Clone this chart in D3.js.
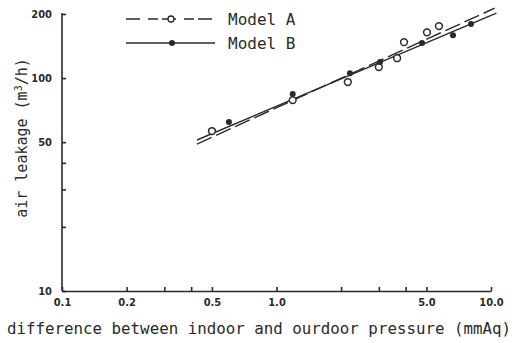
<!DOCTYPE html>
<html><head><meta charset="utf-8">
<script src="https://cdn.jsdelivr.net/npm/d3@7"></script>
<style>
body{margin:0;background:#fff;}
svg{display:block;}
</style></head>
<body>
<svg id="c" width="518" height="343"></svg>
<script>
// Data
const pressureA = [0.50, 1.19, 2.15, 3.00, 3.65, 3.93, 5.03, 5.72];
const leakageA  = [56.4, 78.8, 95.8, 112.6, 124, 147.5, 164, 175.5];
const pressureB = [0.60, 1.19, 2.20, 3.04, 4.77, 6.65, 8.07];
const leakageB  = [62.2, 84.1, 105.5, 118.9, 146, 159, 179.4];
// fitted regression lines (end points)
const fitA_x = [0.426, 10.4];
const fitA_y = [49.0, 213];
const fitB_x = [0.426, 10.6];
const fitB_y = [51.2, 202];
// ticks
const xTicks = [0.1, 0.2, 0.3, 0.4, 0.5, 1, 2, 3, 4, 5, 10];
const xTickLabels = {0.1:"0.1", 0.2:"0.2", 0.5:"0.5", 1:"1.0", 5:"5.0", 10:"10.0"};
const yTicks = [10, 20, 30, 40, 50, 100, 200];
const yTickLabels = {10:"10", 50:"50", 100:"100", 200:"200"};
const seriesNames = ["Model A", "Model B"];

const svg = d3.select("#c");
const ink = "#2a2a2a";
const x = d3.scaleLog().domain([0.1, 10]).range([62, 491]);
const y = d3.scaleLog().domain([10, 200]).range([291, 14]);

const tickFont = "'DejaVu Sans Condensed','Liberation Sans Narrow','DejaVu Sans',sans-serif";
const monoFont = "'DejaVu Sans Mono','Liberation Mono',monospace";

// X axis
const gx = svg.append("g").attr("transform", `translate(0,${y(10)})`)
  .call(d3.axisBottom(x).tickValues(xTicks).tickSizeInner(-4).tickSizeOuter(0).tickPadding(7)
    .tickFormat(d => xTickLabels[d] || ""));
// Y axis
const gy = svg.append("g").attr("transform", `translate(${x(0.1)},0)`)
  .call(d3.axisLeft(y).tickValues(yTicks).tickSizeInner(-4).tickSizeOuter(0).tickPadding(10)
    .tickFormat(d => yTickLabels[d] || ""));
[gx, gy].forEach(g => {
  g.selectAll("path, line").attr("stroke", ink).attr("stroke-width", 1.6);
  g.selectAll("text").attr("fill", ink).attr("font-family", tickFont)
    .attr("font-weight", "bold").attr("font-size", 11);
});
gy.select(".domain").attr("d", `M0,${y(10)}V${y(200)-1}`);

// fitted lines
const line = d3.line().x(d => x(d[0])).y(d => y(d[1]));
svg.append("path").datum(d3.zip(fitA_x, fitA_y)).attr("d", line)
  .attr("fill", "none").attr("stroke", ink).attr("stroke-width", 1.4)
  .attr("stroke-dasharray", "16,5");
svg.append("path").datum(d3.zip(fitB_x, fitB_y)).attr("d", line)
  .attr("fill", "none").attr("stroke", ink).attr("stroke-width", 1.4);

// points
svg.append("g").selectAll("circle").data(d3.zip(pressureA, leakageA)).join("circle")
  .attr("cx", d => x(d[0])).attr("cy", d => y(d[1])).attr("r", 3.4)
  .attr("fill", "#fff").attr("stroke", ink).attr("stroke-width", 1.5);
svg.append("g").selectAll("circle").data(d3.zip(pressureB, leakageB)).join("circle")
  .attr("cx", d => x(d[0])).attr("cy", d => y(d[1])).attr("r", 3)
  .attr("fill", ink);

// legend
const lg = svg.append("g");
const rows = [19, 43];
lg.append("line").attr("x1", 126).attr("x2", 215).attr("y1", rows[0]).attr("y2", rows[0])
  .attr("stroke", ink).attr("stroke-width", 1.3).attr("stroke-dasharray", "14,8,10,4");
lg.append("circle").attr("cx", 171).attr("cy", rows[0]).attr("r", 3)
  .attr("fill", "#fff").attr("stroke", ink).attr("stroke-width", 1.3);
lg.append("line").attr("x1", 126).attr("x2", 215).attr("y1", rows[1]).attr("y2", rows[1])
  .attr("stroke", ink).attr("stroke-width", 1.3);
lg.append("circle").attr("cx", 172).attr("cy", rows[1]).attr("r", 3).attr("fill", ink);
lg.selectAll("text").data(seriesNames).join("text")
  .attr("x", 228).attr("y", (d, i) => rows[i] + 6)
  .attr("font-family", monoFont).attr("font-size", 16).attr("fill", ink)
  .text(d => d);

// axis titles
svg.append("text").attr("x", 259).attr("y", 334).attr("text-anchor", "middle")
  .attr("font-family", monoFont).attr("font-size", 15.8).attr("fill", ink)
  .text("difference between indoor and ourdoor pressure (mmAq)");
svg.append("text").attr("transform", "translate(27,138) rotate(-90)")
  .attr("text-anchor", "middle").attr("font-family", monoFont).attr("font-size", 15).attr("fill", ink)
  .html("air leakage  (m<tspan dy='-5' font-size='10'>3</tspan><tspan dy='5'>/h)</tspan>");
</script>
</body></html>
